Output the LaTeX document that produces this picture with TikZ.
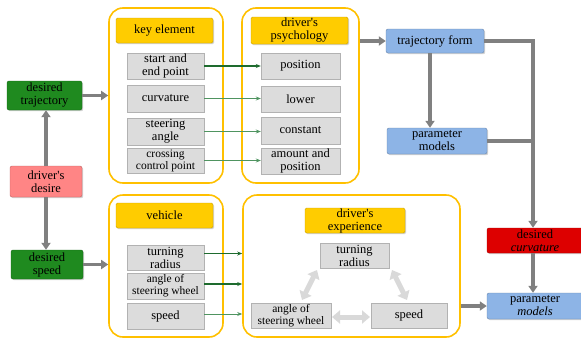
\documentclass[tikz,border=0pt]{standalone}
\usepackage{fontspec}
\setmainfont{Liberation Serif}
\newfontfamily\serf{Liberation Serif}
\usetikzlibrary{arrows.meta,shadows,calc}
\definecolor{contY}{HTML}{FFC000}
\definecolor{headY}{HTML}{FFCC00}
\definecolor{boxG}{HTML}{DCDCDC}
\definecolor{greenB}{HTML}{1F8A1F}
\definecolor{pinkB}{HTML}{FF8585}
\definecolor{blueB}{HTML}{8DB4E6}
\definecolor{redB}{HTML}{DD0000}
\definecolor{arrG}{HTML}{808080}
\definecolor{lineGd}{HTML}{1E6B2E}
\definecolor{lineGl}{HTML}{4F9460}
\begin{document}
\begin{tikzpicture}[x=1pt,y=-1pt,
  every node/.style={font=\serf\fontsize{12.5}{13}\selectfont, align=center, inner sep=0pt},
  smallfont/.style={font=\serf\fontsize{11.5}{12}\selectfont},
  container/.style={draw=contY, line width=1.6pt, rounded corners=14pt},
  head/.style={fill=headY, draw=headY!80!black, line width=0.4pt, rounded corners=1.5pt,
     drop shadow={shadow xshift=1.2pt, shadow yshift=-1.2pt, fill=gray!70}},
  gbox/.style={fill=boxG, draw=gray!60, line width=0.4pt,
     drop shadow={shadow xshift=1.2pt, shadow yshift=-1.2pt, fill=gray!70}},
  cbox/.style={draw=#1!75!black, fill=#1, line width=0.4pt, rounded corners=2pt,
     drop shadow={shadow xshift=1.2pt, shadow yshift=-1.2pt, fill=gray!70}},
  garrow/.style={draw=arrG, line width=3.5pt, -{Triangle[length=7pt,width=9pt]}},
  gline/.style={draw=arrG, line width=3.5pt},
  darr/.style={draw=lineGd, line width=1.1pt, -{Stealth[length=5pt,width=4pt]}},
  larr/.style={draw=lineGl, line width=1.1pt, -{Stealth[length=5pt,width=4pt]}},
  biarr/.style={draw=gray!30, line width=5pt, {Triangle[length=8pt,width=13pt]}-{Triangle[length=8pt,width=13pt]}}
]
\useasboundingbox (0,0) rectangle (581,338);

% containers
\node[container, minimum width=114pt, minimum height=175pt] (C1) at (166,95.5) {};
\node[container, minimum width=117pt, minimum height=175pt] (C2) at (300.5,95.5) {};
\node[container, minimum width=114pt, minimum height=142pt] (C3) at (166,266) {};
\node[container, minimum width=217pt, minimum height=142pt] (C4) at (351.5,266) {};

% headers
\node[head, minimum width=97pt, minimum height=25pt] (hke) at (164.5,30.5) {key element};
\node[head, minimum width=97pt, minimum height=27pt] (hdp) at (299.5,30.5) {driver's\\psychology};
\node[head, minimum width=97pt, minimum height=25pt] (hve) at (164.5,215.5) {vehicle};
\node[head, minimum width=100pt, minimum height=25pt] (hde) at (355,220.5) {driver's\\experience};

% key element boxes
\node[gbox, minimum width=77pt, minimum height=26pt] (sep) at (165.5,66) {start and\\end point};
\node[gbox, minimum width=77pt, minimum height=27pt] (cur) at (165.5,98.5) {curvature};
\node[gbox, minimum width=77pt, minimum height=27pt] (ste) at (165.5,131.5) {steering\\angle};
\node[gbox, smallfont, minimum width=77pt, minimum height=25pt] (ccp) at (165.5,160.5) {crossing\\control point};

% psychology boxes
\node[gbox, minimum width=79pt, minimum height=26pt] (pos) at (300.5,66) {position};
\node[gbox, minimum width=79pt, minimum height=26pt] (low) at (300.5,99) {lower};
\node[gbox, minimum width=79pt, minimum height=27pt] (con) at (300.5,130.5) {constant};
\node[gbox, minimum width=79pt, minimum height=26pt] (amp) at (300.5,161) {amount and\\position};

% vehicle boxes
\node[gbox, minimum width=77pt, minimum height=25pt] (vtr) at (165.5,257.5) {turning\\radius};
\node[gbox, smallfont, minimum width=77pt, minimum height=26pt] (vas) at (165.5,286) {angle of\\steering wheel};
\node[gbox, minimum width=77pt, minimum height=26pt] (vsp) at (165.5,316) {speed};

% experience boxes
\node[gbox, minimum width=69pt, minimum height=25pt] (etr) at (354.5,255.5) {turning\\radius};
\node[gbox, smallfont, minimum width=80pt, minimum height=25pt] (eas) at (291,315.5) {angle of\\steering wheel};
\node[gbox, minimum width=76pt, minimum height=25pt] (esp) at (409,315.5) {speed};

% left coloured boxes
\node[cbox=greenB, minimum width=75pt, minimum height=29pt] (dtr) at (44.5,95.5) {desired\\trajectory};
\node[cbox=pinkB, minimum width=72pt, minimum height=31pt] (dde) at (46,181.5) {driver's\\desire};
\node[cbox=greenB, minimum width=72pt, minimum height=29pt] (dsp) at (47,264.5) {desired\\speed};

% right coloured boxes
\node[cbox=blueB, minimum width=98pt, minimum height=24pt] (tf) at (435,41) {trajectory form};
\node[cbox=blueB, minimum width=100pt, minimum height=26pt] (pm1) at (437,141) {parameter\\models};
\node[cbox=redB, minimum width=96pt, minimum height=25pt] (dc) at (535,240.5) {desired\\\textit{curvature}};
\node[cbox=blueB, minimum width=96pt, minimum height=26pt] (pm2) at (535,306) {parameter\\\textit{models}};

% gray arrows
\draw[garrow] (dtr.east) -- (dtr.east -| C1.west);
\draw[garrow] (dde.north -| 46,0) -- (dtr.south -| 46,0);
\draw[garrow] (dde.south -| 46,0) -- (dsp.north -| 46,0);
\draw[garrow] (dsp.east) -- (dsp.east -| C3.west);
\draw[garrow] (C2.east |- tf.west) -- (tf.west);
\draw[garrow] (tf.south -| 430,0) -- (pm1.north -| 430,0);
\draw[gline] (tf.east) -- (tf.east -| 533,0);
\draw[gline] (pm1.east) -- (pm1.east -| 533,0);
\draw[garrow] (533,39.25) -- (dc.north -| 533,0);
\draw[garrow] (dc.south -| 533,0) -- (pm2.north -| 533,0);
\draw[garrow] (C4.east |- pm2.west) -- (pm2.west);

% green arrows
\draw[darr] (sep.east) -- (sep.east -| pos.west);
\draw[larr] (cur.east) -- (cur.east -| low.west);
\draw[larr] (ste.east) -- (ste.east -| con.west);
\draw[larr] (ccp.east) -- (ccp.east -| amp.west);
\draw[darr] ($(vtr.east)+(0,-4)$) -- ($(vtr.east -| C4.west)+(0,-4)$);
\draw[darr] ($(vas.east)+(0,-2)$) -- ($(vas.east -| C4.west)+(0,-2)$);
\draw[larr, line width=0.7pt] ($(vsp.east)+(0,-2)$) -- ($(vsp.east -| C4.west)+(0,-2)$);

% bidirectional arrows
\draw[biarr] (317,270) -- (302,300);
\draw[biarr] (392,270) -- (407,300);
\draw[biarr] (332,317) -- (370,317);
\end{tikzpicture}
\end{document}
